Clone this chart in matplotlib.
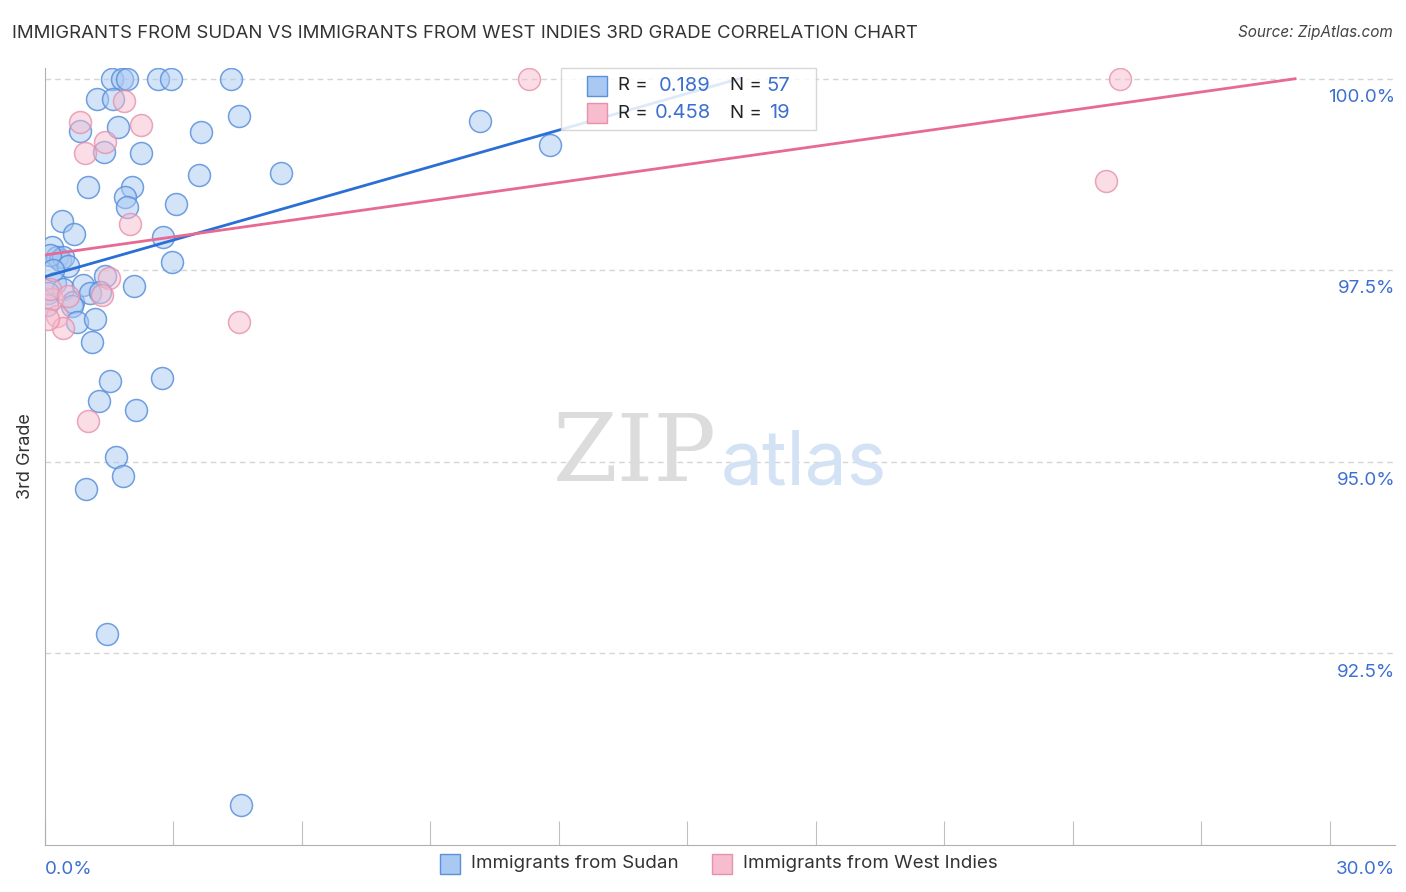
import numpy as np
import matplotlib.pyplot as plt
from matplotlib.patches import Rectangle
from matplotlib.colors import to_rgba

# Immigrants from Sudan (x = %, y = 3rd grade %)
sudan_x = [1.56, 1.80, 1.91, 2.64, 2.94, 4.34, 1.21, 1.59, 4.53, 0.82,
           1.70, 3.64, 1.38, 2.24, 3.60, 5.51, 1.00, 2.03, 1.87, 1.91,
           3.06, 0.40, 0.68, 2.75, 2.96, 2.08, 1.10, 1.52, 2.73, 1.26,
           2.12, 1.66, 1.82, 0.96, 1.45, 4.58, 10.16, 11.79,
           0.16, 0.28, 0.35, 0.42, 0.12, 0.54, 1.40, 0.23, 0.42, 0.65,
           0.89, 1.05, 1.28, 0.07, 0.63, 0.75, 1.17, 0.19, 0.05]
sudan_y = [100.0, 100.0, 100.0, 100.0, 100.0, 100.0, 99.74, 99.74, 99.52, 99.32,
           99.37, 99.31, 99.05, 99.03, 98.75, 98.77, 98.59, 98.59, 98.46, 98.33,
           98.36, 98.14, 97.98, 97.94, 97.61, 97.29, 96.57, 96.05, 96.10, 95.80,
           95.68, 95.06, 94.82, 94.65, 92.75, 90.52, 99.45, 99.13,
           97.80, 97.68, 97.64, 97.67, 97.70, 97.55, 97.43, 97.34, 97.25, 97.09,
           97.31, 97.21, 97.22, 97.21, 97.03, 96.83, 96.86, 97.51, 97.05]

# Immigrants from West Indies
wi_x = [1.84, 0.82, 2.24, 1.40, 0.93, 1.98, 1.49, 1.33, 4.53, 1.00,
        11.30, 25.10, 24.77, 0.28, 0.42, 0.16, 0.12, 0.07, 0.54]
wi_y = [99.71, 99.43, 99.39, 99.18, 99.03, 98.11, 97.40, 97.18, 96.82, 95.53,
        100.0, 100.0, 98.66, 96.90, 96.75, 97.12, 97.25, 96.86, 97.16]

# trend lines: intercept at x=0, slope per x-%
sudan_trend = (97.417, 0.1594)
wi_trend = (97.70, 0.0788)

r_vals = ["0.189", "0.458"]
n_vals = ["57", "19"]
y_ticks = [92.5, 95.0, 97.5, 100.0]
x_ticks = [0, 3, 6, 9, 12, 15, 18, 21, 24, 27, 30]

blue_face = "#a9c9f2"
blue_edge = "#5a90dc"
blue_line = "#2a6fd6"
pink_face = "#f7bccd"
pink_edge = "#e691ad"
pink_line = "#e76a94"
label_blue = "#3d6fd0"

plt.rcParams['font.family'] = ['Inter', 'DejaVu Sans']

fig = plt.figure(figsize=(14.06, 8.92), dpi=100)
ax = fig.add_axes([45/1406, 47/892, 1350/1406, 777/892])
ax.set_xlim(0, 31.52)
ax.set_ylim(90.0, 100.14)

for yt in y_ticks:
    ax.axhline(yt, color="#d5d5d5", lw=1, ls=(0, (4, 3)), zorder=0)
    ax.text(1.0, (yt - 90.0) / 10.14 - 0.024, f"{yt:.1f}%", transform=ax.transAxes,
            ha="right", va="center", color=label_blue, fontsize=13.5)

ax.scatter(sudan_x, sudan_y, s=250, facecolor=to_rgba(blue_face, 0.5),
           edgecolor=to_rgba(blue_edge, 0.85), lw=1.1, zorder=3)
ax.scatter(wi_x, wi_y, s=250, facecolor=to_rgba(pink_face, 0.5),
           edgecolor=to_rgba(pink_edge, 0.8), lw=1.1, zorder=3)

for (b, m), col in [(sudan_trend, blue_line), (wi_trend, pink_line)]:
    x_end = (100.0 - b) / m
    xs = np.array([0, x_end])
    ax.plot(xs, b + m * xs, color=col, lw=2, zorder=4)

for s in ["top", "right"]:
    ax.spines[s].set_visible(False)
for s in ["left", "bottom"]:
    ax.spines[s].set_color("#b0b0b0")
ax.set_yticks([])
ax.set_xticks(x_ticks)
ax.tick_params(axis="x", direction="in", length=17, color="#c0c0c0", labelbottom=False)
ax.text(0, -0.02, "0.0%", transform=ax.transAxes, ha="left", va="top",
        color=label_blue, fontsize=13.5)
ax.text(1.0, -0.02, "30.0%", transform=ax.transAxes, ha="right", va="top",
        color=label_blue, fontsize=13.5)
ax.set_ylabel("3rd Grade", fontsize=13, color="#333333", labelpad=8)

# watermark
ax.text(0.437, 0.502, "ZIP", transform=ax.transAxes, ha="center", va="center",
        fontsize=67, color="#dcdcdc", family="DejaVu Serif", zorder=1)
ax.text(0.562, 0.489, "atlas", transform=ax.transAxes, ha="center", va="center",
        fontsize=54, color="#d3e2f5", zorder=1)

fig.text(12/1406, 1 - 33/892, "IMMIGRANTS FROM SUDAN VS IMMIGRANTS FROM WEST INDIES 3RD GRADE CORRELATION CHART",
         ha="left", va="center", fontsize=13.4, color="#333333")
fig.text(1393/1406, 1 - 33/892, "Source: ZipAtlas.com", ha="right", va="center",
         fontsize=11, style="italic", color="#444444")

# top legend box
fig.patches.append(Rectangle((561/1406, 1 - 130/892), 255/1406, 62/892,
                             transform=fig.transFigure, facecolor="white",
                             edgecolor="#d0d0d0", lw=1, alpha=0.85, zorder=5))
for i, (fc, ec) in enumerate([(blue_face, blue_edge), (pink_face, pink_edge)]):
    yc = 86 + 27 * i
    fig.patches.append(Rectangle((587/1406, 1 - (yc + 10)/892), 20/1406, 20/892,
                                 transform=fig.transFigure, facecolor=fc,
                                 edgecolor=ec, lw=1, zorder=6))
    fig.text(618/1406, 1 - yc/892, "R =", ha="left", va="center", fontsize=13.5,
             color="#222222", zorder=7)
    fig.text(711/1406, 1 - yc/892, r_vals[i], ha="right", va="center", fontsize=14.5,
             color=label_blue, zorder=7)
    fig.text(730/1406, 1 - yc/892, "N =", ha="left", va="center", fontsize=13.5,
             color="#222222", zorder=7)
    fig.text(790/1406, 1 - yc/892, n_vals[i], ha="right", va="center", fontsize=14.5,
             color=label_blue, zorder=7)

# bottom legend
names = ["Immigrants from Sudan", "Immigrants from West Indies"]
for xs0, name, fc, ec in [(440, names[0], blue_face, blue_edge), (712, names[1], pink_face, pink_edge)]:
    fig.patches.append(Rectangle((xs0/1406, 1 - 874/892), 20/1406, 20/892,
                                 transform=fig.transFigure, facecolor=fc,
                                 edgecolor=ec, lw=1))
    fig.text((xs0 + 31)/1406, 1 - 864/892, name, ha="left", va="center",
             fontsize=13.5, color="#333333")

fig.savefig("out.png", dpi=100)
